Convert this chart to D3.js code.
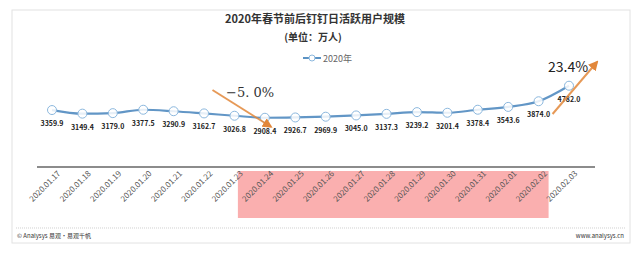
<!DOCTYPE html>
<html>
<head>
<meta charset="utf-8">
<script src="https://cdn.jsdelivr.net/npm/d3@7"></script>
<style>
	body { margin: 0; background: #fff; }
	svg { display: block; font-family: "Noto Sans CJK SC", "Noto Sans", sans-serif; }
</style>
</head>
<body>
<svg id="chart" width="640" height="253"></svg>
<script>
// -------------- DATA --------------
const dates = [
	"2020.01.17", "2020.01.18", "2020.01.19", "2020.01.20", "2020.01.21", "2020.01.22",
	"2020.01.23", "2020.01.24", "2020.01.25", "2020.01.26", "2020.01.27", "2020.01.28",
	"2020.01.29", "2020.01.30", "2020.01.31", "2020.02.01", "2020.02.02", "2020.02.03"
];
const users = [
	3359.9, 3149.4, 3179.0, 3377.5, 3290.9, 3162.7,
	3026.8, 2908.4, 2926.7, 2969.9, 3045.0, 3137.3,
	3239.2, 3201.4, 3378.4, 3543.6, 3874.0, 4782.0
];
const holidayStart = "2020.01.24";
const holidayEnd = "2020.02.02";
const seriesName = "2020年";
const title = "2020年春节前后钉钉日活跃用户规模";
const subtitle = "(单位：万人)";

const svg = d3.select("#chart");

// frame
svg.append("rect")
	.attr("x", 12).attr("y", 10)
	.attr("width", 618).attr("height", 233)
	.attr("fill", "#fff")
	.attr("stroke", "#e2e2e2")
	.attr("stroke-width", 1);

let xScale = d3.scalePoint().domain(dates).range([52, 569]);
let yScale = d3.scaleLinear().domain([2000, 5000]).range([133.3, 82]);

// holiday band
svg.append("rect")
	.attr("x", xScale(holidayStart) - 27)
	.attr("y", 171)
	.attr("width", xScale(holidayEnd) - xScale(holidayStart) + 37)
	.attr("height", 47)
	.attr("fill", "#f9a6a6")
	.attr("fill-opacity", 0.9);

// titles
svg.append("text")
	.attr("x", 315).attr("y", 23)
	.attr("text-anchor", "middle")
	.attr("font-size", 11).attr("font-weight", "bold")
	.attr("fill", "#333")
	.text(title);
svg.append("text")
	.attr("x", 313).attr("y", 41)
	.attr("text-anchor", "middle")
	.attr("font-size", 10).attr("font-weight", "bold")
	.attr("fill", "#333")
	.text(subtitle);

// legend
let legendG = svg.append("g").attr("transform", "translate(303, 58)");
legendG.append("line")
	.attr("x1", 0).attr("x2", 18).attr("y1", 0).attr("y2", 0)
	.attr("stroke", "#5b93c4").attr("stroke-width", 2);
legendG.append("circle")
	.attr("cx", 9).attr("cy", 0).attr("r", 3)
	.attr("fill", "#fff").attr("stroke", "#8cb8de");
legendG.append("text")
	.attr("x", 20).attr("y", 3.5)
	.attr("font-size", 9).attr("fill", "#666")
	.text(seriesName);

// x axis
svg.append("line")
	.attr("x1", 37).attr("x2", 595)
	.attr("y1", 167).attr("y2", 167)
	.attr("stroke", "#666").attr("stroke-width", 1.5);

svg.append("g")
	.selectAll("text")
	.data(dates)
	.join("text")
	.attr("transform", (d) => `translate(${xScale(d) + 9}, 174) rotate(-45)`)
	.attr("text-anchor", "end")
	.attr("font-size", 8)
	.attr("fill", "#555")
	.text((d) => d);

// line
let pts = dates.map((d, i) => ({ date: d, v: users[i] }));
let line = d3.line()
	.x((d) => xScale(d.date))
	.y((d) => yScale(d.v))
	.curve(d3.curveMonotoneX);

svg.append("path")
	.datum(pts)
	.attr("d", line)
	.attr("fill", "none")
	.attr("stroke", "#6296c6")
	.attr("stroke-width", 2.2);

svg.append("g")
	.selectAll("circle")
	.data(pts)
	.join("circle")
	.attr("cx", (d) => xScale(d.date))
	.attr("cy", (d) => yScale(d.v))
	.attr("r", 4.5)
	.attr("fill", "#fff")
	.attr("fill-opacity", 0.85)
	.attr("stroke", "#8cb8de")
	.attr("stroke-width", 1);

svg.append("g")
	.selectAll("text")
	.data(pts)
	.join("text")
	.attr("x", (d) => xScale(d.date))
	.attr("y", (d) => yScale(d.v) + 16)
	.attr("text-anchor", "middle")
	.attr("font-size", 7)
	.attr("font-weight", "bold")
	.attr("fill", "#222")
	.text((d) => d.v.toFixed(1));

// change arrows
let defs = svg.append("defs");
defs.append("marker")
	.attr("id", "arrow")
	.attr("viewBox", "0 0 10 10")
	.attr("refX", 8).attr("refY", 5)
	.attr("markerWidth", 5).attr("markerHeight", 5)
	.attr("orient", "auto")
	.append("path")
	.attr("d", "M0,0 L10,5 L0,10 z")
	.attr("fill", "#e2873a");

let i23 = dates.indexOf("2020.01.23");
let i24 = dates.indexOf("2020.01.24");
svg.append("line")
	.attr("x1", xScale(dates[i23]) - 22).attr("y1", 90)
	.attr("x2", xScale(dates[i24]) + 6).attr("y2", yScale(users[i24]) + 9)
	.attr("stroke", "#e2873a").attr("stroke-width", 2)
	.attr("stroke-opacity", 0.85)
	.attr("marker-end", "url(#arrow)");
svg.append("text")
	.attr("x", 226).attr("y", 97)
	.attr("font-family", "'DejaVu Serif', 'Liberation Serif', serif")
	.attr("font-size", 13)
	.attr("fill", "#333")
	.text("−5. 0%");

let iLast = dates.length - 1;
svg.append("line")
	.attr("x1", xScale(dates[iLast - 1]) + 14).attr("y1", 114)
	.attr("x2", xScale(dates[iLast]) + 28).attr("y2", 62)
	.attr("stroke", "#e2873a").attr("stroke-width", 2)
	.attr("stroke-opacity", 0.85)
	.attr("marker-end", "url(#arrow)");
svg.append("text")
	.attr("x", 548).attr("y", 72)
	.attr("font-size", 14)
	.attr("fill", "#222")
	.text("23.4%");

// footer
svg.append("line")
	.attr("x1", 16).attr("x2", 626)
	.attr("y1", 228).attr("y2", 228)
	.attr("stroke", "#bbb").attr("stroke-width", 0.7)
	.attr("stroke-dasharray", "1,1");
svg.append("text")
	.attr("x", 17).attr("y", 238)
	.attr("font-size", 6).attr("fill", "#333")
	.text("© Analysys 易观·易观千帆");
svg.append("text")
	.attr("x", 624).attr("y", 238)
	.attr("text-anchor", "end")
	.attr("font-size", 6).attr("fill", "#333")
	.text("www.analysys.cn");
</script>
</body>
</html>
